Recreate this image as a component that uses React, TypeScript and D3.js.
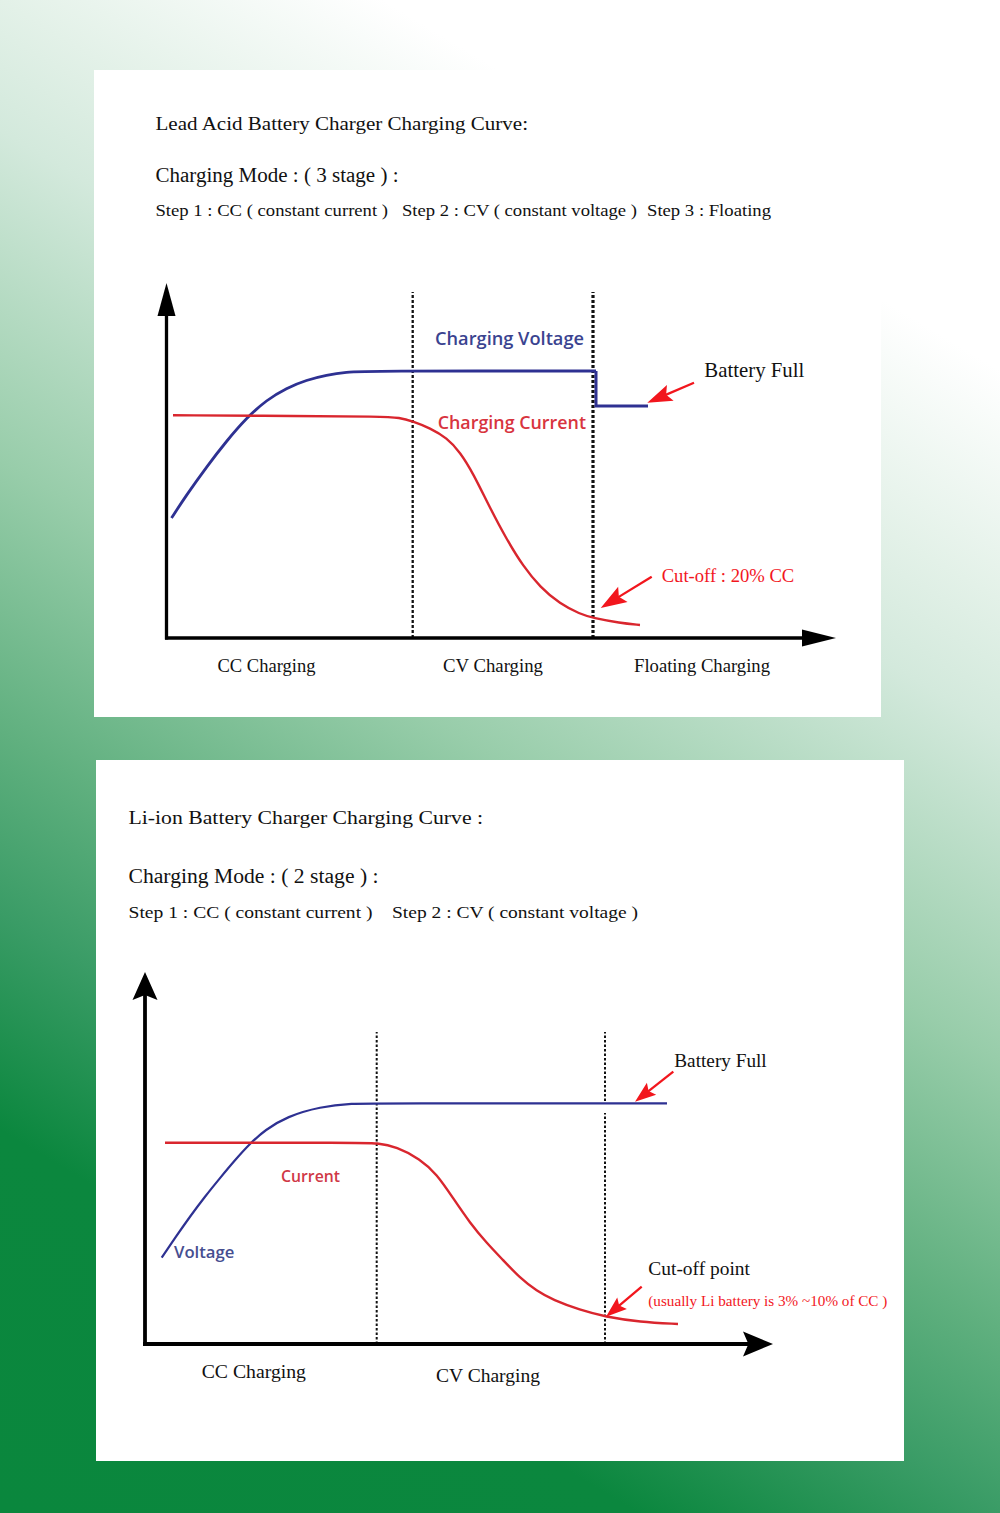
import React from "react";
import * as d3 from "d3";

type Pt = [number, number];

// ---------- Lead acid chart (units: time from origin, level above x axis) ----------
const leadVoltageRise: Pt[] = [
  [5, 120], [20, 143], [40, 171], [60, 197], [80, 220], [100, 238],
  [120, 250], [140, 258], [160, 263], [180, 266], [200, 267], [429.5, 267],
];
const leadVoltageFloat: Pt[] = [[429.5, 267], [429.5, 232], [481.5, 232]];
const leadCurrent: Pt[] = [
  [6.5, 222.7], [133.5, 222], [213.5, 221.5], [233.5, 220.5], [246.5, 216.5],
  [263.5, 210], [280.5, 200], [293.5, 186], [306.5, 165], [323.5, 130],
  [340.5, 98], [356.5, 72], [373.5, 51], [393.5, 34], [413.5, 24],
  [426.5, 20], [453.5, 15], [473.5, 13],
];
const leadStageBounds = [246.2, 426.5];
const leadStageLabels = ["CC Charging", "CV Charging", "Floating Charging"];

// ---------- Li-ion chart ----------
const liVoltage: Pt[] = [
  [16.7, 86.3], [30, 106], [45, 127.5], [60, 147.5], [75, 166], [90, 184],
  [105, 200.5], [120, 214], [142, 227.5], [175, 237.3], [208, 240.7],
  [232, 240.7], [522, 240.7],
];
const liCurrent: Pt[] = [
  [20, 201.3], [215, 201.3], [231.7, 201], [251.7, 197.3], [275, 185],
  [291.7, 170], [308, 146], [325, 121], [341.7, 101], [358, 84], [375, 66],
  [391.7, 53], [408, 44], [435, 34], [460, 27.3], [495, 22], [533, 20],
];
const liStageBounds = [231.7, 460];
const liStageLabels = ["CC Charging", "CV Charging"];

const SERIF = "'Liberation Serif', 'Times New Roman', serif";
const SANS = "'Open Sans', 'Noto Sans', sans-serif";
const NAVY = "#2e3192";
const RED = "#d9262e";
const ARROW_RED = "#f2161d";

function axisArrow(tx: number, ty: number, dx: number, dy: number, L: number, w: number, notch: number) {
  const nx = -dy, ny = dx;
  const bx = tx - dx * L, by = ty - dy * L;
  const cx = tx - dx * L * notch, cy = ty - dy * L * notch;
  return `M${tx},${ty}L${bx + nx * w},${by + ny * w}L${cx},${cy}L${bx - nx * w},${by - ny * w}Z`;
}

function RedArrow({ from, to, L, w }: { from: Pt; to: Pt; L: number; w: number }) {
  const dx = to[0] - from[0], dy = to[1] - from[1];
  const len = Math.hypot(dx, dy);
  const ux = dx / len, uy = dy / len;
  const bx = to[0] - ux * L * 0.8, by = to[1] - uy * L * 0.8;
  return (
    <g>
      <line x1={from[0]} y1={from[1]} x2={bx} y2={by} stroke={ARROW_RED} strokeWidth={2.3} />
      <path d={axisArrow(to[0], to[1], ux, uy, L, w, 0.82)} fill={ARROW_RED} />
    </g>
  );
}

function T({ x, y, size, len, children, fill = "#111", family = SERIF, weight = 400 }: any) {
  return (
    <text x={x} y={y} fontSize={size} fontFamily={family} fontWeight={weight} fill={fill}
      textLength={len} lengthAdjust="spacingAndGlyphs">
      {children}
    </text>
  );
}

function LeadChart() {
  const x = d3.scaleLinear().domain([0, 669.5]).range([166.5, 836]);
  const y = d3.scaleLinear().domain([0, 355]).range([638, 283]);
  const curve = d3.line<Pt>().x((d) => x(d[0])).y((d) => y(d[1])).curve(d3.curveBasis);
  const lin = d3.line<Pt>().x((d) => x(d[0])).y((d) => y(d[1]));
  return (
    <g>
      <T x={155.5} y={130} size={19.5} len={372.5}>Lead Acid Battery Charger Charging Curve:</T>
      <T x={155.5} y={181.5} size={20} len={243}>Charging Mode : ( 3 stage ) :</T>
      <T x={155.5} y={215.5} size={17} len={232.5}>Step 1 : CC ( constant current )</T>
      <T x={402} y={215.5} size={17} len={235}>Step 2 : CV ( constant voltage )</T>
      <T x={647} y={215.5} size={17} len={124}>Step 3 : Floating</T>

      {leadStageBounds.map((b, i) => (
        <line key={i} x1={x(b)} x2={x(b)} y1={y(0)} y2={y(346)} stroke="#111"
          strokeWidth={i === 0 ? 2.3 : 3.2} strokeDasharray="3,2" />
      ))}

      <path d={curve(leadVoltageRise) || ""} fill="none" stroke={NAVY} strokeWidth={2.8} />
      <path d={lin(leadVoltageFloat) || ""} fill="none" stroke={NAVY} strokeWidth={3} />
      <path d={curve(leadCurrent) || ""} fill="none" stroke={RED} strokeWidth={2.4} />

      {/* axes */}
      <line x1={x(0)} x2={x(0)} y1={y(0) + 1.5} y2={y(330)} stroke="#000" strokeWidth={3.3} />
      <line x1={x(0) - 1.5} x2={x(640)} y1={y(0)} y2={y(0)} stroke="#000" strokeWidth={3.3} />
      <path d={axisArrow(x(0), y(355), 0, -1, 33, 9, 1)} fill="#000" />
      <path d={axisArrow(x(669.5), y(0), 1, 0, 34, 8.5, 1)} fill="#000" />

      <T x={435} y={345} size={18.5} len={149} family={SANS} weight={600} fill="#3a4390">Charging Voltage</T>
      <T x={437.7} y={429.3} size={18.5} len={148.3} family={SANS} weight={600} fill="#d8343e">Charging Current</T>

      <T x={704.3} y={376.7} size={21} len={100}>Battery Full</T>
      <RedArrow from={[x(527.5), y(255.3)]} to={[x(480.8), y(235.3)]} L={25} w={8.5} />
      <T x={661.7} y={581.7} size={18.5} len={132.6} fill={ARROW_RED}>Cut-off : 20% CC</T>
      <RedArrow from={[x(485.2), y(61.3)]} to={[x(434.2), y(30)]} L={26} w={9} />

      <T x={217.5} y={671.7} size={18.5} len={98}>{leadStageLabels[0]}</T>
      <T x={443} y={671.7} size={18.5} len={100}>{leadStageLabels[1]}</T>
      <T x={634} y={671.7} size={18.5} len={136}>{leadStageLabels[2]}</T>
    </g>
  );
}

function LiChart() {
  const x = d3.scaleLinear().domain([0, 628]).range([145, 773]);
  const y = d3.scaleLinear().domain([0, 372]).range([1344, 972]);
  const curve = d3.line<Pt>().x((d) => x(d[0])).y((d) => y(d[1])).curve(d3.curveBasis);
  return (
    <g>
      <T x={128.5} y={824.3} size={19.5} len={354.5}>Li-ion Battery Charger Charging Curve :</T>
      <T x={128.5} y={882.5} size={20} len={250}>Charging Mode : ( 2 stage ) :</T>
      <T x={128.5} y={917.7} size={17} len={244}>Step 1 : CC ( constant current )</T>
      <T x={392} y={917.7} size={17} len={246}>Step 2 : CV ( constant voltage )</T>

      <line x1={x(liStageBounds[0])} x2={x(liStageBounds[0])} y1={y(0)} y2={y(312)} stroke="#111"
        strokeWidth={2} strokeDasharray="2.5,2" />
      <line x1={x(liStageBounds[1])} x2={x(liStageBounds[1])} y1={y(0)} y2={y(231)} stroke="#111"
        strokeWidth={2} strokeDasharray="2.5,2" />
      <line x1={x(liStageBounds[1])} x2={x(liStageBounds[1])} y1={y(243)} y2={y(312)} stroke="#111"
        strokeWidth={2} strokeDasharray="2.5,2" />

      <path d={curve(liVoltage) || ""} fill="none" stroke={NAVY} strokeWidth={2.2} />
      <path d={curve(liCurrent) || ""} fill="none" stroke={RED} strokeWidth={2.4} />

      <line x1={x(0)} x2={x(0)} y1={y(0) + 2} y2={y(350)} stroke="#000" strokeWidth={3.8} />
      <line x1={x(0) - 2} x2={x(610)} y1={y(0)} y2={y(0)} stroke="#000" strokeWidth={3.8} />
      <path d={axisArrow(x(0), y(372), 0, -1, 28, 12.5, 0.82)} fill="#000" />
      <path d={axisArrow(x(628), y(0), 1, 0, 30, 12.5, 0.82)} fill="#000" />

      <T x={281} y={1181.7} size={17} len={59} family={SANS} weight={600} fill="#d03846">Current</T>
      <T x={174} y={1257.7} size={17} len={60.3} family={SANS} weight={600} fill="#464e90">Voltage</T>

      <T x={674.3} y={1066.7} size={19.5} len={92.4}>Battery Full</T>
      <RedArrow from={[x(528.3), y(272.3)]} to={[x(490), y(242.3)]} L={21} w={7.5} />
      <T x={648.3} y={1275} size={19.5} len={101.7}>Cut-off point</T>
      <T x={648.3} y={1305.7} size={15.5} len={239} fill={ARROW_RED}>(usually Li battery is 3% ~10% of CC )</T>
      <RedArrow from={[x(496.7), y(57.3)]} to={[x(461), y(27.3)]} L={21} w={7.5} />

      <T x={201.7} y={1377.7} size={19.5} len={104.3}>{liStageLabels[0]}</T>
      <T x={436} y={1382.3} size={19.5} len={104}>{liStageLabels[1]}</T>
    </g>
  );
}

export default function App() {
  // gradient along s = -0.6x + y, from s=-300 (P0) to s=1513 (P1)
  const s0 = -300, s1 = 1513;
  const k = (s1 - s0) / 1.36;
  const P0: Pt = [0, s0];
  const P1: Pt = [P0[0] - 0.6 * k, P0[1] + k];
  const off = (s: number) => (s - s0) / (s1 - s0);
  const stops: [number, string][] = [
    [-300, "#ffffff"], [-230, "#ffffff"], [0, "#e3f1e8"], [130, "#d3e9dc"],
    [460, "#98cdaa"], [730, "#60b07f"], [913, "#3a9c66"], [1130, "#0b873e"], [1513, "#0a873d"],
  ];
  return (
    <svg width={1000} height={1513} style={{ position: "absolute", left: 0, top: 0, display: "block" }}>
      <defs>
        <linearGradient id="bg" gradientUnits="userSpaceOnUse" x1={P0[0]} y1={P0[1]} x2={P1[0]} y2={P1[1]}>
          {stops.map(([s, c], i) => (
            <stop key={i} offset={off(s)} stopColor={c} />
          ))}
        </linearGradient>
      </defs>
      <rect x={0} y={0} width={1000} height={1513} fill="url(#bg)" />
      <rect x={94} y={70} width={787} height={647} fill="#fff" />
      <rect x={96} y={760} width={808} height={701} fill="#fff" />
      <LeadChart />
      <LiChart />
    </svg>
  );
}
